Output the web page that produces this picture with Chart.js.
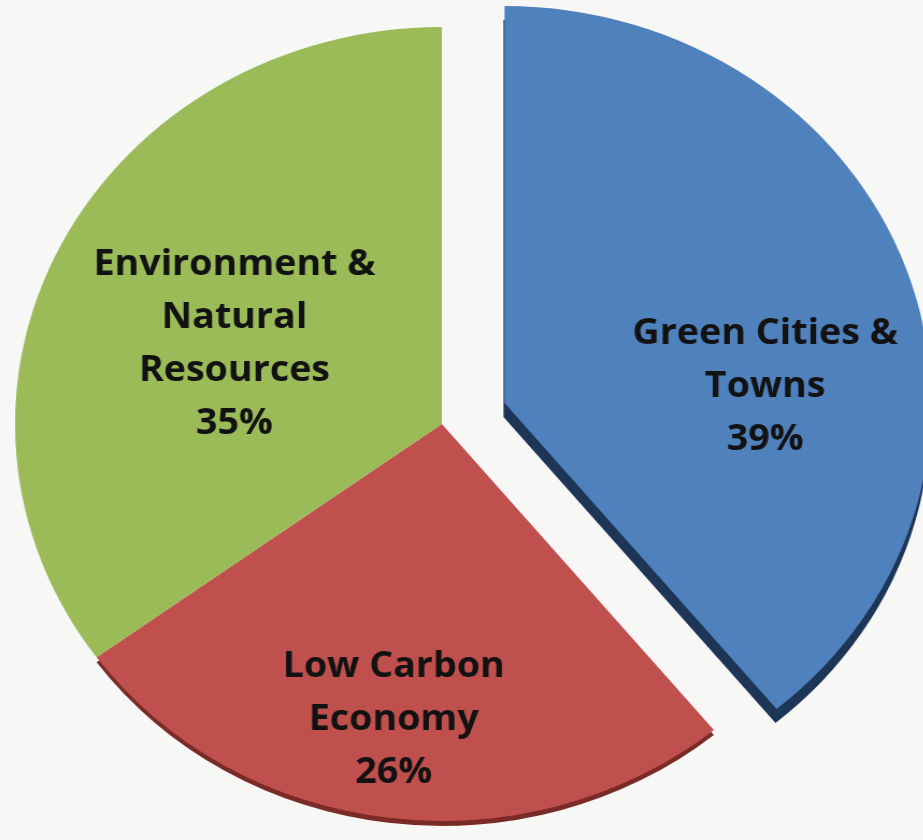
<!DOCTYPE html>
<html>
<head>
<meta charset="utf-8">
<script src="https://cdn.jsdelivr.net/npm/chart.js@4/dist/chart.umd.min.js"></script>
<style>
  html, body { margin: 0; padding: 0; background: #f7f7f5; overflow: hidden; width: 923px; height: 840px; }
  #wrap { width: 859px; height: 840px; transform: scaleX(1.075); transform-origin: 0 0; }
  canvas { display: block; }
</style>
</head>
<body>
<div id="wrap"><canvas id="c" width="859" height="840"></canvas></div>
<script>
// ---- data ----
const categories = [
  ['Green Cities &', 'Towns'],
  ['Low Carbon', 'Economy'],
  ['Environment &', 'Natural', 'Resources']
];
const shares = [39, 26, 35];
const sliceColors = ['#4f81bd', '#c0504d', '#9bbb59'];
const rimColors = ['#1d3557', '#7a2a27', null];

// ---- presentation settings ----
const explode = [62, 0, 0];                // px pushed out along mid angle
const rimShift = [[-1, 14], [0, 5], null]; // 3D side wall
const labelRadius = [0.612, 0.754, 0.526];
const labelAngleShift = [16, 1.4, -4.5];    // degrees
const lineHeight = 53;

const explodePlugin = {
  id: 'explode',
  afterDatasetUpdate(chart, args) {
    const meta = chart.getDatasetMeta(args.index);
    meta.data.forEach((arc, i) => {
      const d = explode[i] || 0;
      if (!d) return;
      const mid = (arc.startAngle + arc.endAngle) / 2;
      arc.x += Math.cos(mid) * d;
      arc.y += Math.sin(mid) * d;
    });
  }
};

const rimPlugin = {
  id: 'rim',
  beforeDatasetsDraw(chart) {
    const ctx = chart.ctx;
    const meta = chart.getDatasetMeta(0);
    meta.data.forEach((arc, i) => {
      if (!rimShift[i]) return;
      const proxy = Object.create(arc);
      proxy.options = Object.assign({}, arc.options, { backgroundColor: rimColors[i], borderWidth: 0 });
      ctx.save();
      ctx.translate(rimShift[i][0], rimShift[i][1]);
      proxy.draw(ctx);
      ctx.restore();
    });
  }
};

const labelPlugin = {
  id: 'sliceLabels',
  afterDatasetsDraw(chart) {
    const ctx = chart.ctx;
    const meta = chart.getDatasetMeta(0);
    const total = shares.reduce((a, b) => a + b, 0);
    meta.data.forEach((arc, i) => {
      const mid = (arc.startAngle + arc.endAngle) / 2 + labelAngleShift[i] * Math.PI / 180;
      const r = arc.outerRadius * labelRadius[i];
      const cx = arc.x + Math.cos(mid) * r;
      const cy = arc.y + Math.sin(mid) * r;
      const lines = categories[i].concat([Math.round(shares[i] / total * 100) + '%']);
      ctx.save();
      ctx.font = 'bold 35px "Open Sans", Lato, sans-serif';
      ctx.fillStyle = '#121212';
      ctx.textAlign = 'center';
      ctx.textBaseline = 'middle';
      const top = cy - (lines.length - 1) * lineHeight / 2;
      lines.forEach((t, k) => ctx.fillText(t, cx, top + k * lineHeight));
      ctx.restore();
    });
  }
};

new Chart(document.getElementById('c'), {
  type: 'pie',
  data: {
    labels: categories,
    datasets: [{
      data: shares,
      backgroundColor: sliceColors,
      borderWidth: 0,
      radius: 397
    }]
  },
  options: {
    responsive: false,
    animation: false,
    events: [],
    layout: { padding: { top: 8, right: 37, left: 0, bottom: 0 } },
    plugins: { legend: { display: false }, tooltip: { enabled: false } }
  },
  plugins: [explodePlugin, rimPlugin, labelPlugin]
});
</script>
</body>
</html>
